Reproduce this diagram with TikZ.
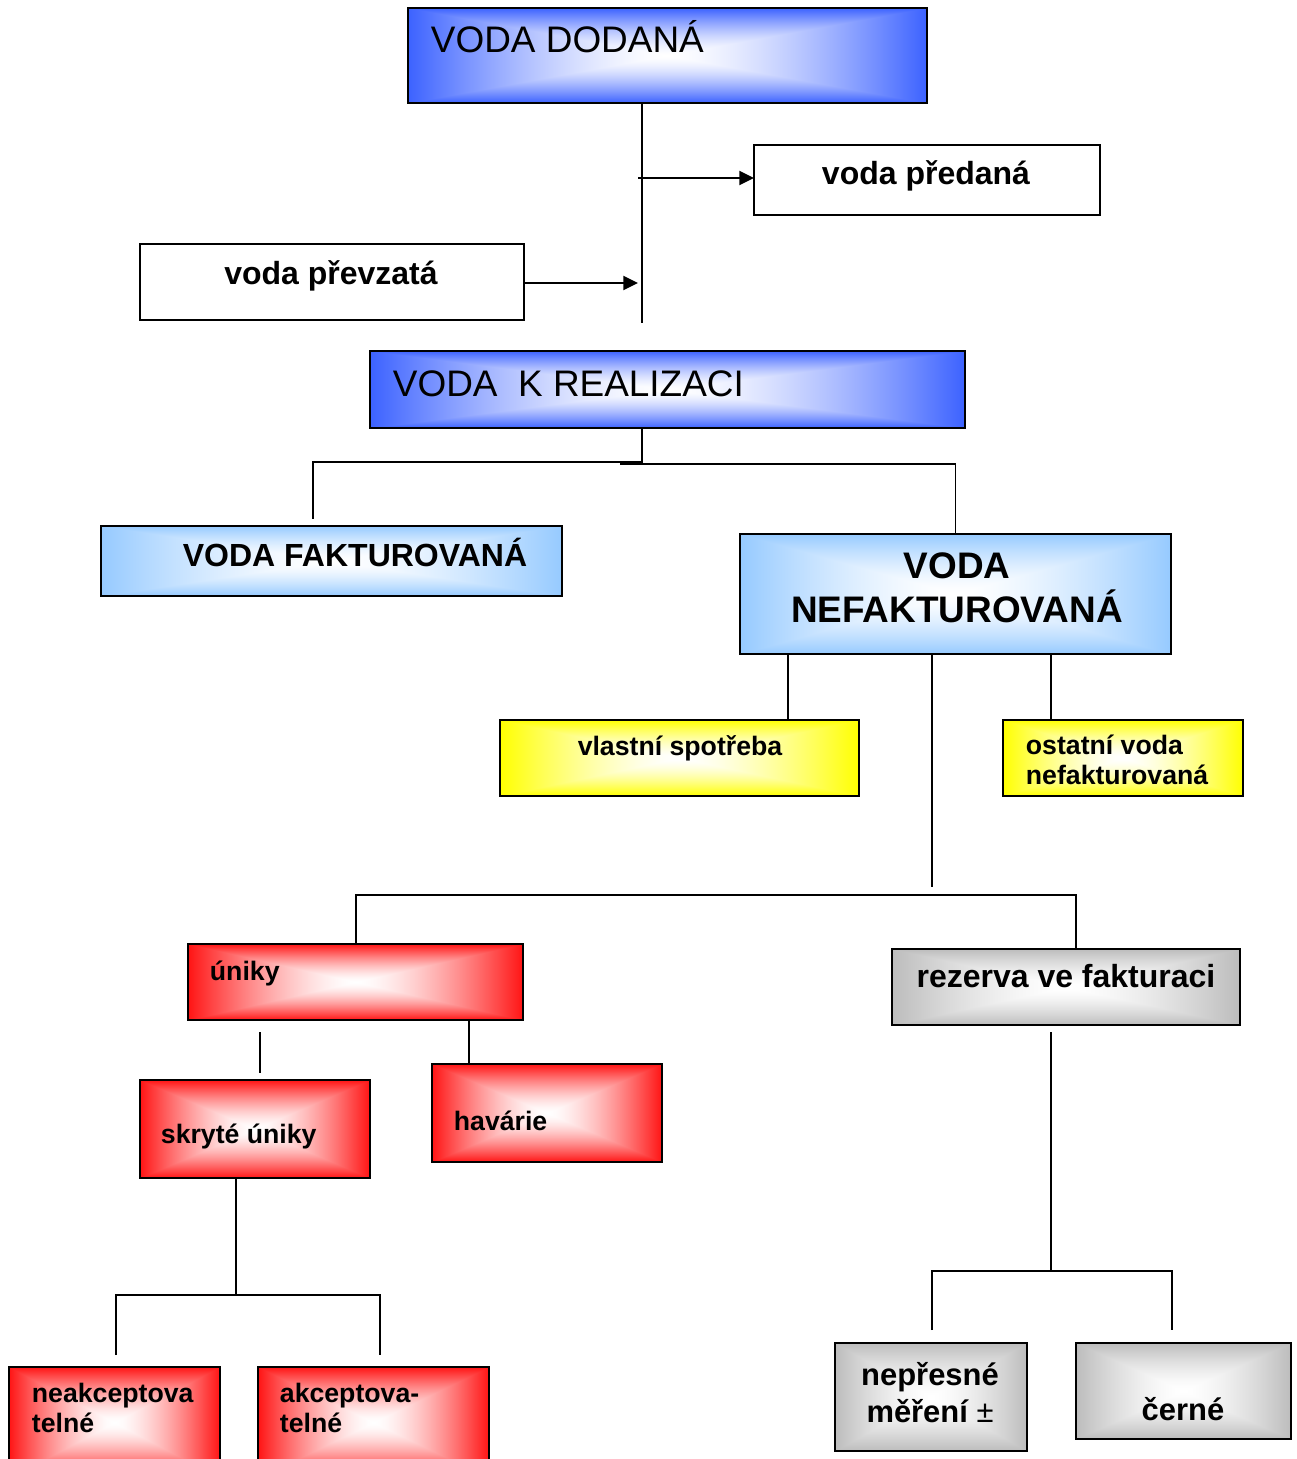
\documentclass[tikz,border=0pt]{standalone}
\usepackage{fontspec}
\setmainfont{Liberation Sans}
\usetikzlibrary{fit,arrows.meta}
\pgfdeclarefunctionalshading[shadecol]{rectgrad}{\pgfpoint{-50bp}{-50bp}}{\pgfpoint{50bp}{50bp}}{\pgfshadecolortorgb{shadecol}{\myshrgb}}{
  abs exch abs
  2 copy lt {exch} if pop
  25 div dup 1 gt {pop 1} if
  dup sqrt mul
  dup 1 \myshrgbred\space sub mul 1 exch sub
  exch dup 1 \myshrgbgreen\space sub mul 1 exch sub
  exch 1 \myshrgbblue\space sub mul 1 exch sub
}
\definecolor{cblue}{RGB}{60,98,255}
\definecolor{clblue}{RGB}{150,202,255}
\definecolor{cyel}{RGB}{255,255,0}
\definecolor{cred}{RGB}{255,20,20}
\definecolor{cgray}{RGB}{188,188,188}
\begin{document}
\begin{tikzpicture}[x=0.75pt,y=-0.75pt,line width=1.4pt,
  boxnode/.style={draw=black,rectangle,inner sep=0pt,outer sep=0pt},
  gfill/.style={shading=rectgrad,/utils/exec={\colorlet{shadecol}{#1}}},
  tbig/.style={inner sep=0pt,font=\fontsize{27.7}{33}\selectfont},
  tbold/.style={inner sep=0pt,font=\fontsize{24}{29}\selectfont\bfseries},
  tbb/.style={inner sep=0pt,align=center,font=\fontsize{27.7}{33}\selectfont\bfseries},
  tsmall/.style={inner sep=0pt,align=left,font=\fontsize{20}{22.5}\selectfont\bfseries},
  tgray/.style={inner sep=0pt,align=center,font=\fontsize{23.2}{27.75}\selectfont\bfseries},
  arr/.style={-{Triangle[length=11pt,width=10.5pt]}}]
\useasboundingbox (0,0) rectangle (1296,1459);
% boxes
\node[boxnode,gfill=cblue,fit={(408,8) (927,103)}] (dod) {};
\node[boxnode,fill=white,fit={(754,145) (1100,215)}] (pred) {};
\node[boxnode,fill=white,fit={(140,244) (524,320)}] (prev) {};
\node[boxnode,gfill=cblue,fit={(370,351) (965,428)}] (real) {};
\node[boxnode,gfill=clblue,fit={(101,526) (562,596)}] (fakt) {};
\node[boxnode,gfill=clblue,fit={(740,534) (1171,654)}] (nef) {};
\node[boxnode,gfill=cyel,fit={(500,720) (859,796)}] (vlas) {};
\node[boxnode,gfill=cyel,fit={(1003,720) (1243,796)}] (ost) {};
\node[boxnode,gfill=cred,fit={(188,944) (523,1020)}] (uni) {};
\node[boxnode,gfill=cgray,fit={(892,949) (1240,1025)}] (rez) {};
\node[boxnode,gfill=cred,fit={(140,1080) (370,1178)}] (skr) {};
\node[boxnode,gfill=cred,fit={(432,1064) (662,1162)}] (hav) {};
\node[boxnode,gfill=cred,fit={(9,1367) (220,1478)}] (neak) {};
\node[boxnode,gfill=cred,fit={(258,1367) (489,1478)}] (akc) {};
\node[boxnode,gfill=cgray,fit={(835,1343) (1027,1451)}] (nep) {};
\node[boxnode,gfill=cgray,fit={(1076,1343) (1291,1439)}] (cer) {};
% texts
\node[tbig,anchor=base west] (tdod) at (430,53) {VODA DODANÁ};
\node[tbold,anchor=base] (tpred) at (926,185) {voda předaná};
\node[tbold,anchor=base] (tprev) at (331,284) {voda převzatá};
\node[tbig,anchor=base west] (treal) at (392,396) {VODA\ \ K REALIZACI};
\node[tbold,anchor=base] (tfakt) at (355,566) {VODA FAKTUROVANÁ};
\node[tbb,anchor=base] (tnef) at (957,622) {VODA\\NEFAKTUROVANÁ};
\node[tsmall,anchor=base] (tvlas) at (680,755) {vlastní spotřeba};
\node[tsmall,anchor=base west] (tost) at (1025,784) {ostatní voda\\nefakturovaná};
\node[tsmall,anchor=base west] (tuni) at (209,980) {úniky};
\node[tbold,anchor=base] (trez) at (1066,987) {rezerva ve fakturaci};
\node[tsmall,anchor=base west] (tskr) at (160,1143) {skryté úniky};
\node[tsmall,anchor=base west] (thav) at (453,1130) {havárie};
\node[tsmall,anchor=base west] (tneak) at (31,1432) {neakceptova\\telné};
\node[tsmall,anchor=base west] (takc) at (279,1432) {akceptova-\\telné};
\node[tgray,anchor=base] (tnep) at (930,1422) {nepřesné\\měření {\mdseries ±}};
\node[tgray,anchor=base] (tcer) at (1183,1420) {černé};
% coordinates
\coordinate (v1) at (642,323);
\coordinate (a1) at (638,178);
\coordinate (a2) at (638,283);
\coordinate (j1) at (642,462);
\coordinate (j2) at (313,519);
\coordinate (j3) at (620,464);
\coordinate (x788) at (788,0);
\coordinate (k1) at (932,887);
\coordinate (x1051) at (1051,0);
\coordinate (h1) at (356,895);
\coordinate (h2) at (1076,895);
\coordinate (u1) at (260,1032);
\coordinate (u2) at (260,1073);
\coordinate (x469) at (469,0);
\coordinate (r1) at (1051,1032);
\coordinate (r2) at (1051,1271);
\coordinate (r3) at (932,1330);
\coordinate (r4) at (1172,1330);
\coordinate (s2) at (236,1295);
\coordinate (s3) at (116,1355);
\coordinate (s4) at (380,1355);
% connectors
\draw (dod.south -| v1) -- (v1);
\draw[arr] (a1) -- (pred.west |- a1);
\draw[arr] (prev.east |- a2) -- (a2);
\draw (real.south -| j1) -- (j1) -| (j2);
\draw (j3) -| (nef.north);
\draw (nef.south -| x788) -- (vlas.north -| x788);
\draw (nef.south -| k1) -- (k1);
\draw (nef.south -| x1051) -- (ost.north -| x1051);
\draw (uni.north -| h1) -- (h1) -- (h2) -- (rez.north -| h2);
\draw (u1) -- (u2);
\draw (uni.south -| x469) -- (hav.north -| x469);
\draw (r1) -- (r2);
\draw (r3) |- (r2) -| (r4);
\draw (skr.south -| s2) -- (s2);
\draw (s3) |- (s2) -| (s4);
\end{tikzpicture}
\end{document}
